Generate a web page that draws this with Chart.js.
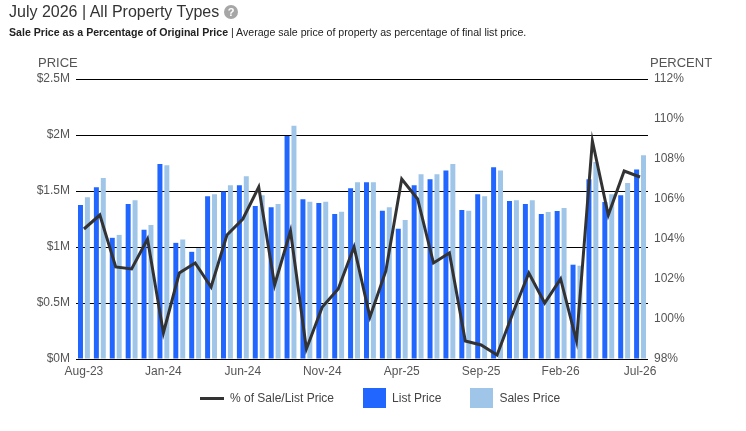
<!DOCTYPE html>
<html>
<head>
<meta charset="utf-8">
<script src="https://cdn.jsdelivr.net/npm/chart.js@4"></script>
<style>
  body { margin: 0; background: #fff; font-family: "Liberation Sans", Arial, sans-serif; }
  #wrap { position: relative; width: 746px; height: 431px; overflow: hidden; }
  #myChart { position: absolute; left: 0; top: 0; }
  .title { position: absolute; left: 9px; top: 3px; font-size: 16px; color: #333; white-space: nowrap; }
  .help { display: inline-block; width: 14px; height: 14px; border-radius: 50%; background: #a6a6a6;
          color: #fff; font-size: 11px; font-weight: bold; text-align: center; line-height: 14px;
          vertical-align: 1px; margin-left: 5px; }
  .sub { position: absolute; left: 9px; top: 26px; font-size: 10.6px; color: #222; white-space: nowrap; }
  .axis-t { position: absolute; top: 55px; font-size: 13px; color: #555; }
  #legend { position: absolute; left: 200px; top: 388px; display: flex; align-items: center;
            font-size: 12px; color: #444; }
  #legend .item { display: flex; align-items: center; margin-right: 29px; }
  #legend .sw { margin-right: 6px; }
</style>
</head>
<body>
<div id="wrap">
  <canvas id="myChart" width="746" height="431"></canvas>
  <div class="title">July 2026 | All Property Types<span class="help">?</span></div>
  <div class="sub"><b>Sale Price as a Percentage of Original Price</b> | Average sale price of property as percentage of final list price.</div>
  <div class="axis-t" style="left:38px">PRICE</div>
  <div class="axis-t" style="left:650px">PERCENT</div>
  <div id="legend"></div>
</div>
<script>
  const labels = [
    'Aug-23', 'Sep-23', 'Oct-23', 'Nov-23', 'Dec-23',
    'Jan-24', 'Feb-24', 'Mar-24', 'Apr-24', 'May-24',
    'Jun-24', 'Jul-24', 'Aug-24', 'Sep-24', 'Oct-24',
    'Nov-24', 'Dec-24', 'Jan-25', 'Feb-25', 'Mar-25',
    'Apr-25', 'May-25', 'Jun-25', 'Jul-25', 'Aug-25',
    'Sep-25', 'Oct-25', 'Nov-25', 'Dec-25', 'Jan-26',
    'Feb-26', 'Mar-26', 'Apr-26', 'May-26', 'Jun-26',
    'Jul-26',
  ];

  // prices in $M
  const listPrice = [
    1.374, 1.534, 1.082, 1.383, 1.155, 1.740, 1.037, 0.957, 1.454, 1.495,
    1.551, 1.365, 1.356, 1.992, 1.427, 1.392, 1.294, 1.525, 1.578, 1.324,
    1.164, 1.551, 1.605, 1.684, 1.330, 1.472, 1.711, 1.410, 1.383, 1.294,
    1.321, 0.842, 1.605, 1.401, 1.463, 1.693,
  ];

  const salesPrice = [
    1.445, 1.616, 1.108, 1.418, 1.197, 1.731, 1.067, 0.990, 1.472, 1.551,
    1.631, 1.463, 1.383, 2.083, 1.403, 1.403, 1.315, 1.578, 1.578, 1.356,
    1.241, 1.649, 1.649, 1.740, 1.324, 1.454, 1.684, 1.418, 1.418, 1.312,
    1.348, 0.833, 1.758, 1.472, 1.572, 1.820,
  ];

  const salePct = [
    104.5, 105.2, 102.6, 102.5, 104.0, 99.3, 102.3, 102.8, 101.6, 104.2,
    105.0, 106.6, 101.7, 104.4, 98.5, 100.6, 101.5, 103.6, 100.1, 102.4,
    107.0, 106.0, 102.8, 103.3, 98.9, 98.7, 98.2, 100.3, 102.3, 100.8,
    102.0, 98.9, 108.9, 105.2, 107.4, 107.1,
  ];

  const tickColor = '#555';

  const data = {
    labels: labels,
    datasets: [{
      type: 'line',
      label: '% of Sale/List Price',
      data: salePct,
      yAxisID: 'y1',
      borderColor: '#333',
      backgroundColor: '#333',
      borderWidth: 3,
      pointRadius: 0,
      tension: 0,
      order: 0
    }, {
      type: 'bar',
      label: 'List Price',
      data: listPrice.map(v => v * 1e6),
      yAxisID: 'y',
      backgroundColor: 'rgb(33, 102, 255)',
      categoryPercentage: 0.87,
      barPercentage: 0.72,
      order: 1
    }, {
      type: 'bar',
      label: 'Sales Price',
      data: salesPrice.map(v => v * 1e6),
      yAxisID: 'y',
      backgroundColor: 'rgb(159, 197, 232)',
      categoryPercentage: 0.87,
      barPercentage: 0.72,
      order: 1
    }]
  };

  const config = {
    data: data,
    options: {
      responsive: false,
      animation: false,
      layout: { padding: { top: 79, left: 0, right: 0, bottom: 0 } },
      plugins: { legend: { display: false }, tooltip: { enabled: false } },
      scales: {
        x: {
          offset: true,
          grid: { display: false, drawTicks: false },
          border: { display: false },
          ticks: {
            color: tickColor,
            font: { family: 'Liberation Sans', size: 12 },
            autoSkip: false,
            maxRotation: 0,
            padding: 5,
            callback: function (v, i) { return i % 5 === 0 ? labels[i] : ''; }
          },
          afterFit: function (s) { s.height = 72; }
        },
        y: {
          position: 'left',
          min: 0,
          max: 2500000,
          border: { display: false },
          grid: { color: '#000', lineWidth: 1, drawTicks: false },
          ticks: {
            stepSize: 500000,
            color: tickColor,
            font: { family: 'Liberation Sans', size: 12 },
            padding: 6,
            callback: v => '$' + (v / 1e6) + 'M'
          },
          afterFit: function (s) { s.width = 76; }
        },
        y1: {
          position: 'right',
          min: 98,
          max: 112,
          border: { display: false },
          grid: { display: false, drawTicks: false },
          ticks: {
            stepSize: 2,
            color: tickColor,
            font: { family: 'Liberation Sans', size: 12 },
            padding: 6,
            callback: v => v + '%'
          },
          afterFit: function (s) { s.width = 98; }
        }
      }
    }
  };

  const myChart = new Chart(document.getElementById('myChart'), config);

  // html legend built from the chart datasets
  const legend = document.getElementById('legend');
  myChart.data.datasets.forEach(ds => {
    const item = document.createElement('div');
    item.className = 'item';
    const sw = document.createElement('span');
    sw.className = 'sw';
    if (ds.type === 'line') {
      sw.style.cssText = 'display:inline-block;width:24px;height:3px;background:' + ds.borderColor;
    } else {
      sw.style.cssText = 'display:inline-block;width:23px;height:20px;background:' + ds.backgroundColor;
    }
    item.appendChild(sw);
    item.appendChild(document.createTextNode(ds.label));
    legend.appendChild(item);
  });
</script>
</body>
</html>
